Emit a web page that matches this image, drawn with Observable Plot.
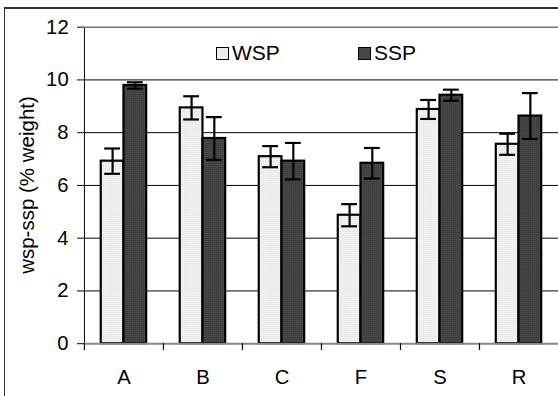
<!DOCTYPE html>
<html>
<head>
<meta charset="utf-8">
<script src="https://cdn.jsdelivr.net/npm/d3@7"></script>
<script src="https://cdn.jsdelivr.net/npm/@observablehq/plot@0.6"></script>
<style>
  html, body { margin: 0; padding: 0; overflow: hidden; background: #fff; }
  #wrap { position: relative; width: 558px; height: 396px; overflow: hidden; background: #fff;
          font-family: "Liberation Sans", Arial, sans-serif; }
  #chart { position: absolute; left: 0; top: 0; }
  #border { position: absolute; left: 4px; top: 7px; width: 700px; height: 500px;
            border-left: 1.5px solid #333; border-top: 2px solid #333; pointer-events: none; }
  #ytitle { position: absolute; left: 27px; top: 185px; transform: translate(-50%, -50%) rotate(-90deg);
            white-space: nowrap; font-size: 20.5px; color: #000; }
  .leg { position: absolute; top: 41px; font-size: 21px; color: #000; display: flex; align-items: center; }
  .sw { width: 11px; height: 11px; border: 1.5px solid #000; margin-right: 3px; }
</style>
</head>
<body>
<div id="wrap">
  <div id="chart"></div>
  <div id="border"></div>
  <div id="ytitle">wsp-ssp (% weight)</div>
  <div class="leg" style="left:216px"><span class="sw" style="background:#ececec"></span>WSP</div>
  <div class="leg" style="left:358px"><span class="sw" style="background:#474747"></span>SSP</div>
</div>
<script>
const categories = ["A", "B", "C", "F", "S", "R"];
const wspValues = [6.92, 8.94, 7.09, 4.87, 8.88, 7.56];
const wspErrors = [0.48, 0.44, 0.40, 0.42, 0.36, 0.40];
const sspValues = [9.79, 7.78, 6.92, 6.84, 9.42, 8.63];
const sspErrors = [0.12, 0.81, 0.69, 0.58, 0.21, 0.87];
const yTicks = [0, 2, 4, 6, 8, 10, 12];

const wsp = categories.map((c, i) => ({cat: c, value: wspValues[i], err: wspErrors[i]}));
const ssp = categories.map((c, i) => ({cat: c, value: sspValues[i], err: sspErrors[i]}));

function bars(data, fill, inL, inR, dx, capL, capR) {
  return [
    Plot.barY(data, {x: "cat", y: "value", fill, stroke: "#000", strokeWidth: 2.2, insetLeft: inL, insetRight: inR}),
    Plot.ruleX(data, {x: "cat", y1: d => d.value - d.err, y2: d => d.value + d.err, dx, stroke: "#000", strokeWidth: 2.2}),
    Plot.tickY(data, {x: "cat", y: d => d.value + d.err, insetLeft: capL, insetRight: capR, stroke: "#000", strokeWidth: 2.2}),
    Plot.tickY(data, {x: "cat", y: d => d.value - d.err, insetLeft: capL, insetRight: capR, stroke: "#000", strokeWidth: 2.2})
  ];
}

const chart = Plot.plot({
  width: 565,
  height: 396,
  marginLeft: 85,
  marginRight: 0,
  marginTop: 27,
  marginBottom: 48.5,
  style: {fontSize: "20.5px", fontFamily: "'Liberation Sans', Arial, sans-serif", background: "white", color: "#000"},
  x: {domain: categories, padding: 0, tickSize: 0, tickPadding: 26, label: null},
  y: {domain: [0, 12], ticks: yTicks, tickSize: 7, tickPadding: 9, label: null, line: true},
  marks: [
    Plot.ruleY(yTicks.filter(t => t > 0 && t < 12), {stroke: "#000", strokeWidth: 1}),
    Plot.ruleY([12], {stroke: "#777", strokeWidth: 1.5}),
    ...bars(wsp, "url(#patW)", 17, 40, -11.5, 20.5, 43.5),
    ...bars(ssp, "url(#patS)", 40, 17, 11.5, 43.5, 20.5),
    Plot.ruleY([0], {stroke: "#888", strokeWidth: 2}),
    Plot.ruleX(categories, {x: d => d, dx: -40, y1: 0, y2: -0.26, stroke: "#000", strokeWidth: 1.2})
  ]
});

const svg = d3.select(chart);
const defs = svg.insert("defs", ":first-child");
const pw = defs.append("pattern").attr("id", "patW").attr("width", 2).attr("height", 2).attr("patternUnits", "userSpaceOnUse");
pw.append("rect").attr("width", 2).attr("height", 2).attr("fill", "#f6f6f6");
pw.append("rect").attr("width", 1).attr("height", 1).attr("fill", "#d4d4d4");
const ps = defs.append("pattern").attr("id", "patS").attr("width", 2).attr("height", 2).attr("patternUnits", "userSpaceOnUse");
ps.append("rect").attr("width", 2).attr("height", 2).attr("fill", "#3a3a3a");
ps.append("rect").attr("width", 1).attr("height", 1).attr("fill", "#5e5e5e");

document.getElementById("chart").appendChild(chart);
</script>
</body>
</html>
